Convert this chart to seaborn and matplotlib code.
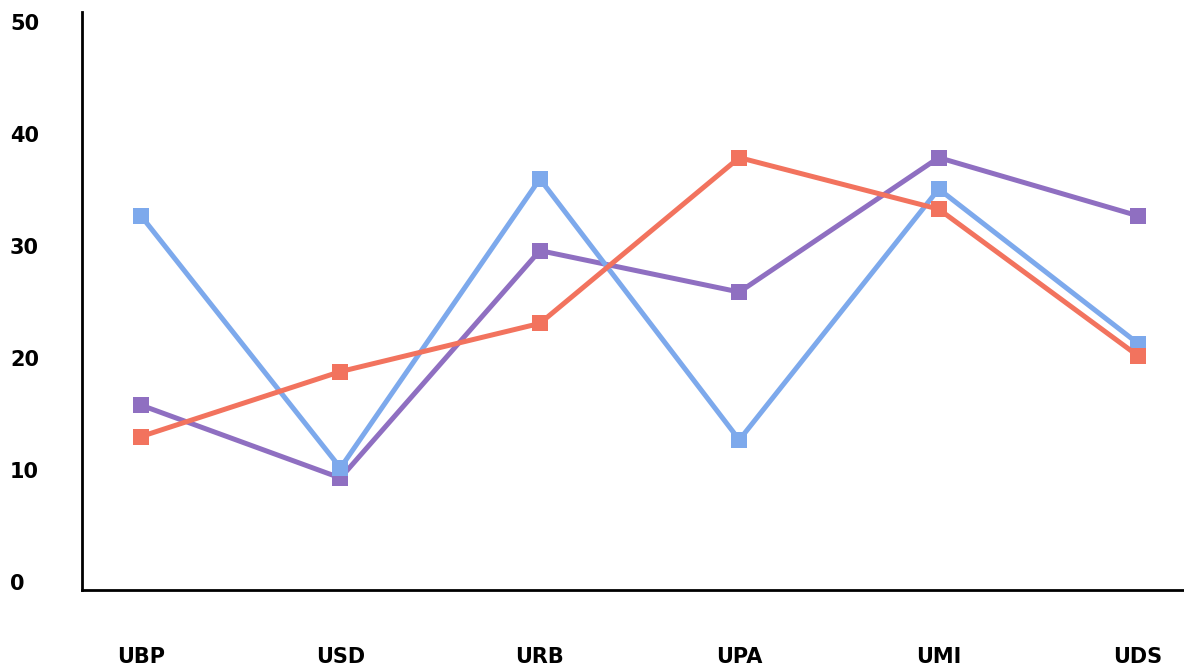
import matplotlib
matplotlib.use("Agg")
import matplotlib.pyplot as plt
import pandas as pd
import seaborn as sns

# ── Data ──────────────────────────────────────────────────────────────────────
categories = ["UBP", "USD", "URB", "UPA", "UMI", "UDS"]
purple_vals = [15.8, 9.3, 29.6, 25.9, 37.9, 32.7]
blue_vals = [32.7, 10.2, 36.0, 12.7, 35.1, 21.3]
red_vals = [13.0, 18.8, 23.1, 37.9, 33.3, 20.2]
y_ticks = [0, 10, 20, 30, 40, 50]

series = {
    "Purple": (purple_vals, "#8F6FC1"),
    "Blue": (blue_vals, "#7DA9EC"),
    "Red": (red_vals, "#F2735E"),
}

sns.set_theme(style="white")
plt.rcParams["font.family"] = ["DejaVu Sans"]

fig = plt.figure(figsize=(11.84, 6.72), dpi=100)
ax = fig.add_axes([82 / 1184, 82 / 672, 1102 / 1184, 578 / 672])

for name, (vals, colour) in series.items():
    df = pd.DataFrame({"cat": categories, "value": vals})
    sns.lineplot(data=df, x="cat", y="value", ax=ax, color=colour,
                 linewidth=3.6, marker="s", markersize=11,
                 markeredgewidth=0, sort=False)

ax.set_xlim(-0.296, 5.23)
ax.set_ylim(-0.7, 50.9)
ax.set_yticks(y_ticks)
ax.set_xlabel("")
ax.set_ylabel("")

for side in ("top", "right"):
    ax.spines[side].set_visible(False)
for side in ("left", "bottom"):
    ax.spines[side].set_color("black")
    ax.spines[side].set_linewidth(2)

ax.tick_params(axis="y", length=0, pad=51.8, labelsize=15, labelcolor="black")
ax.tick_params(axis="x", length=0, pad=41, labelsize=15, labelcolor="black")
for lbl in ax.get_yticklabels():
    lbl.set_horizontalalignment("left")
    lbl.set_fontweight("heavy")
for lbl in ax.get_xticklabels():
    lbl.set_fontweight("heavy")

fig.savefig("out.png", dpi=100)
